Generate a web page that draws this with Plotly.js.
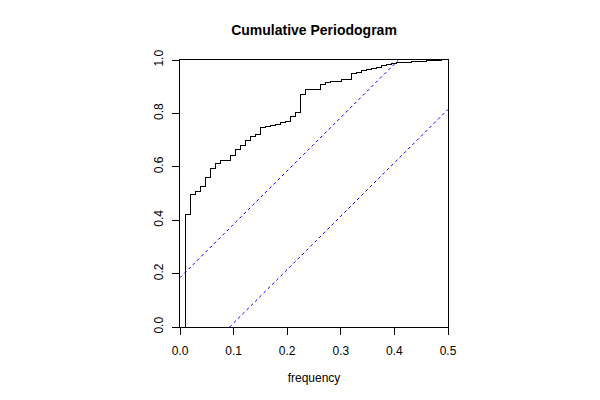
<!DOCTYPE html>
<html>
<head>
<meta charset="utf-8">
<script src="https://cdn.plot.ly/plotly-3.0.1.min.js"></script>
<style>
html,body{margin:0;padding:0;background:#fff;}
#chart{width:600px;height:400px;}
.scatterlayer .trace:first-child .js-line{shape-rendering:crispEdges;}
</style>
</head>
<body>
<div id="chart"></div>
<script>
// Fourier frequencies (cycles per observation)
const frequency = [
  0, 0.00939, 0.01878, 0.02817, 0.03756, 0.04695, 0.05634, 0.06573, 0.07512, 0.08451,
  0.09390, 0.10329, 0.11268, 0.12207, 0.13146, 0.14085, 0.15023, 0.15962, 0.16901, 0.17840,
  0.18779, 0.19718, 0.20657, 0.21596, 0.22535, 0.23474, 0.24413, 0.25352, 0.26291, 0.27230,
  0.28169, 0.29108, 0.30047, 0.30986, 0.31925, 0.32864, 0.33803, 0.34742, 0.35681, 0.36620,
  0.37559, 0.38498, 0.39437, 0.40376, 0.41315, 0.42254, 0.43192, 0.44131, 0.45070, 0.46009,
  0.46948, 0.47887, 0.48826
];
// cumulative normalised periodogram
const cumPeriodogram = [
  0, 0.422, 0.498, 0.509, 0.527, 0.560, 0.594, 0.613, 0.622, 0.625,
  0.643, 0.663, 0.679, 0.700, 0.714, 0.722, 0.748, 0.750, 0.756, 0.760,
  0.765, 0.771, 0.790, 0.804, 0.870, 0.888, 0.889, 0.890, 0.907, 0.915,
  0.918, 0.921, 0.926, 0.928, 0.950, 0.955, 0.960, 0.964, 0.967, 0.972,
  0.978, 0.984, 0.987, 0.989, 0.991, 0.992, 0.993, 0.995, 0.996, 0.997,
  0.998, 0.999, 1.0
];
// confidence band lines
const upperBandX = [0, 0.4076];
const upperBandY = [0.1849, 1];
const lowerBandX = [0.0925, 0.5];
const lowerBandY = [0, 0.8151];

const xTicks = [0, 0.1, 0.2, 0.3, 0.4, 0.5];
const xTickLabels = ["0.0", "0.1", "0.2", "0.3", "0.4", "0.5"];
const yTicks = [0, 0.2, 0.4, 0.6, 0.8, 1.0];
const yTickLabels = ["0.0", "0.2", "0.4", "0.6", "0.8", "1.0"];

const font = "Liberation Sans, Arial, Helvetica, sans-serif";

const traces = [
  {x: frequency, y: cumPeriodogram, type: 'scatter', mode: 'lines',
   line: {shape: 'hv', color: '#000000', width: 1}, hoverinfo: 'skip'},
  {x: upperBandX, y: upperBandY, type: 'scatter', mode: 'lines',
   line: {color: '#0000FF', width: 1, dash: '3px,3px'}, hoverinfo: 'skip'},
  {x: lowerBandX, y: lowerBandY, type: 'scatter', mode: 'lines',
   line: {color: '#0000FF', width: 1, dash: '3px,3px'}, hoverinfo: 'skip'}
];

const layout = {
  width: 600, height: 400,
  margin: {l: 180, r: 152, t: 60, b: 73, pad: 0},
  paper_bgcolor: '#ffffff', plot_bgcolor: '#ffffff',
  showlegend: false,
  font: {family: font, size: 12, color: '#000000'},
  title: {text: '<b>Cumulative Periodogram</b>', x: 314/600, xanchor: 'center',
          y: 1 - 30/400, yanchor: 'middle', font: {family: font, size: 14, color: '#000'}},
  xaxis: {
    range: [0, 0.5], showgrid: false, zeroline: false,
    showline: true, linecolor: '#000', linewidth: 1, mirror: true,
    ticks: 'outside', ticklen: 7, tickwidth: 1, tickcolor: '#000',
    tickvals: xTicks, ticktext: xTickLabels, ticklabelstandoff: 6,
    tickfont: {family: font, size: 12, color: '#000'},
    title: {text: 'frequency', standoff: 16, font: {family: font, size: 12, color: '#000'}},
    automargin: false, fixedrange: true
  },
  yaxis: {
    range: [0, 1], showgrid: false, zeroline: false,
    showline: true, linecolor: '#000', linewidth: 1, mirror: true,
    ticks: 'outside', ticklen: 7, tickwidth: 1, tickcolor: '#000',
    tickvals: yTicks, ticktext: yTickLabels, tickangle: -90, ticklabelstandoff: 4,
    tickfont: {family: font, size: 12, color: '#000'},
    automargin: false, fixedrange: true
  }
};

Plotly.newPlot('chart', traces, layout, {displayModeBar: false, staticPlot: true});
</script>
</body>
</html>
